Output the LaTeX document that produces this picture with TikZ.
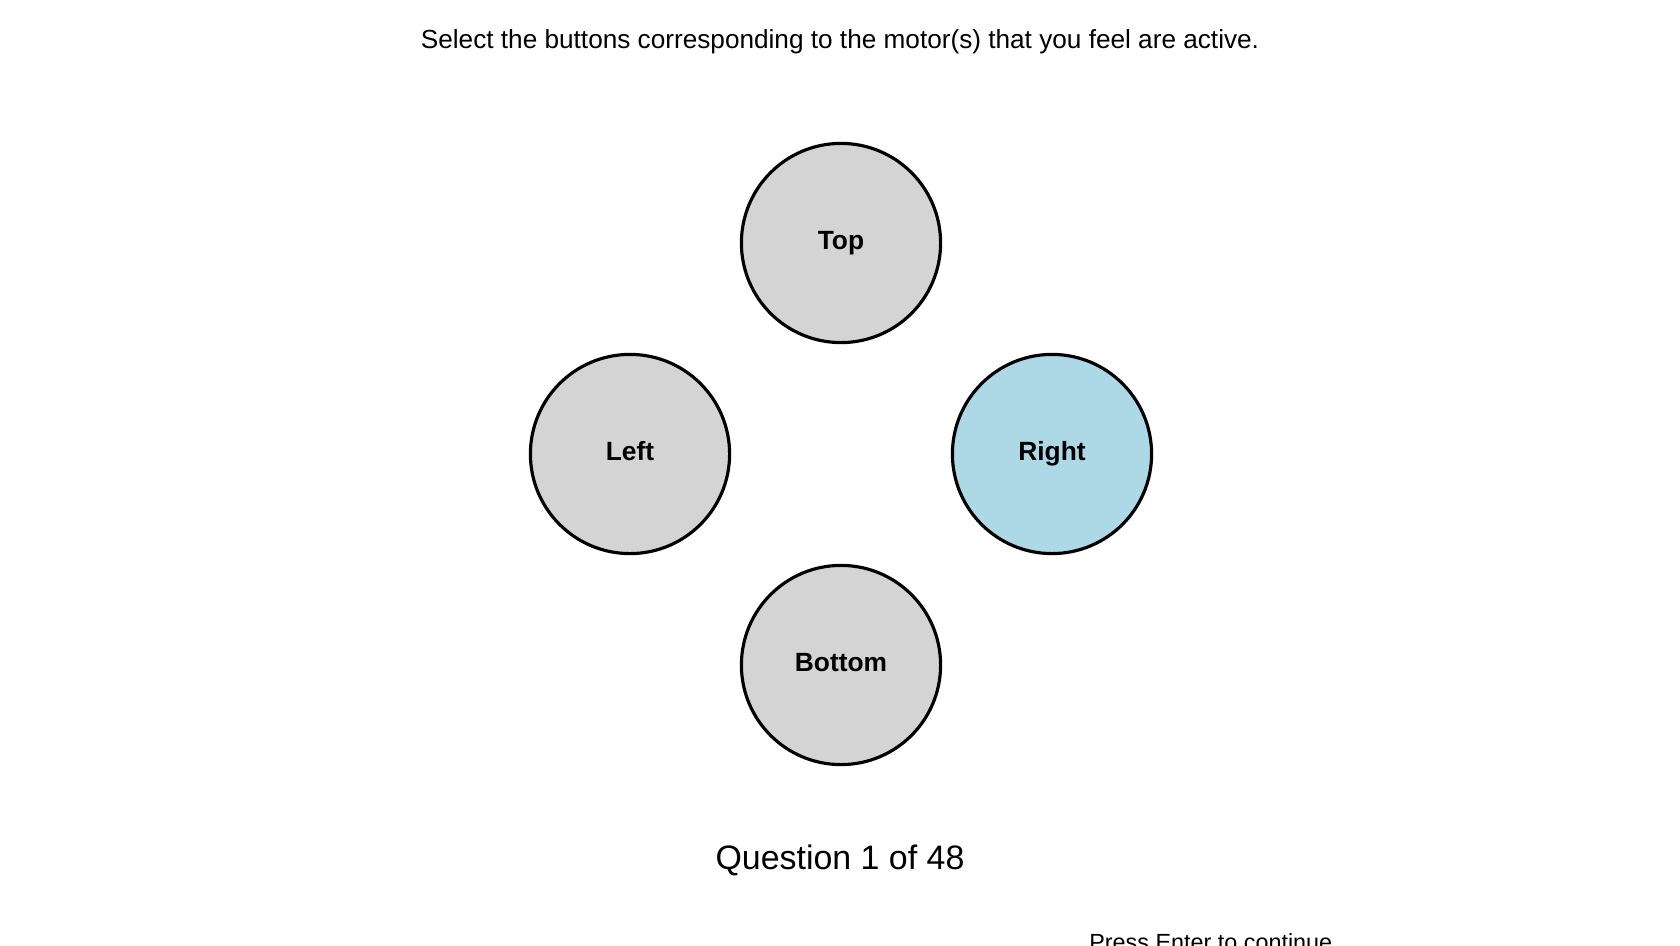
\documentclass[tikz,border=0pt]{standalone}
\usepackage{fontspec}
\setmainfont{Liberation Sans}
\begin{document}
\begin{tikzpicture}[x=0.02cm,y=-0.02cm,
  btn/.style={circle,draw=black,line width=1.8pt,minimum size=199.2*0.02cm,inner sep=0pt,text height=1.5ex,text depth=0ex,font=\fontsize{15}{18}\selectfont\bfseries},
  txt/.style={inner sep=0pt}]
\clip (0,0) rectangle (1680,946);
\fill[white] (0,0) rectangle (1680,946);
\node[txt,font=\fontsize{14.9}{18}\selectfont] (title) at (840,42) {Select the buttons corresponding to the motor(s) that you feel are active.};
\node[btn,fill=black!17] (top) at (841,243) {Top};
\node[btn,fill=black!17] (left) at (630,454) {Left};
\node[btn,fill={rgb,255:red,173;green,216;blue,230}] (right) at (1052,454) {Right};
\node[btn,fill=black!17] (bottom) at (841,665) {Bottom};
\node[txt,font=\fontsize{19.3}{23}\selectfont] (q) at (840,860) {Question 1 of 48};
\node[txt,anchor=north west,font=\fontsize{13.3}{16}\selectfont] (press) at (1089,933) {Press Enter to continue};
\end{tikzpicture}
\end{document}
